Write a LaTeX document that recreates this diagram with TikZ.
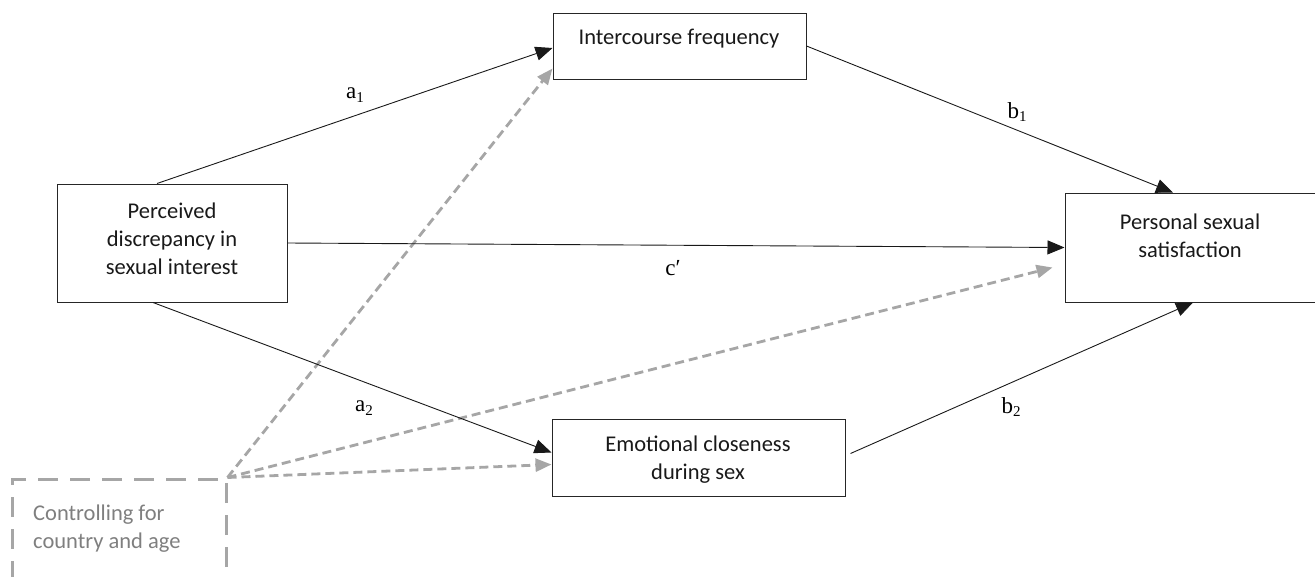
\documentclass[tikz,border=0pt]{standalone}
\usepackage{fontspec}
\newfontfamily\bodyfont{Carlito}
\newfontfamily\labfont{Liberation Serif}
\usetikzlibrary{arrows.meta,calc}
\definecolor{ctlgray}{HTML}{A6A6A6}
\definecolor{ctltext}{HTML}{7F7F7F}
\newcommand{\lbl}[2]{#1{\raisebox{-0.35ex}{\fontsize{15}{15}\selectfont #2}}}
\begin{document}
\begin{tikzpicture}[x=1pt,y=-1pt,
  box/.style={draw=black!85, line width=1pt, rectangle, inner sep=0pt},
  txt/.style={font=\bodyfont\fontsize{22.5}{28}\selectfont, align=center, inner sep=0pt, text=black!90},
  lab/.style={font=\labfont\fontsize{23}{23}\selectfont, inner sep=0pt},
  link/.style={draw=black!90, line width=0.9pt, -{Triangle[length=17pt,width=14pt]}},
  ctl/.style={draw=ctlgray, line width=2.8pt, dash pattern=on 9pt off 5pt, -{Triangle[length=16pt,width=13pt]}},
  ctlbox/.style={draw=ctlgray, line width=3pt, dash pattern=on 20pt off 12pt, rectangle, inner sep=0pt}
]
\useasboundingbox (0,0) rectangle (1315,576);

% boxes
\node[box, minimum width=230pt, minimum height=118pt] (perc) at (172,243) {};
\node[box, minimum width=253pt, minimum height=66pt] (inter) at (679.5,46) {};
\node[box, minimum width=293pt, minimum height=77pt] (emo) at (698.5,457.5) {};
\node[box, minimum width=252pt, minimum height=109pt] (pers) at (1191,247.5) {};
\node[ctlbox, minimum width=214pt, minimum height=130pt] (ctrl) at (119,544) {};

% texts
\node[txt] (perct) at (172,239) {Perceived\\discrepancy in\\sexual interest};
\node[txt] (intert) at (679,39) {Intercourse frequency};
\node[txt] (emot) at (698,460) {Emotional closeness\\during sex};
\node[txt] (perst) at (1190,236) {Personal sexual\\satisfaction};
\node[txt, text=ctltext, anchor=west, align=left] (ctrlt) at (33,529) {Controlling for\\country and age};

% control arrows
\coordinate (cc) at (ctrl.north east);
\draw[ctl] (cc) -- ($(inter.south west)+(0,-11)$);
\draw[ctl] (cc) -- ($(pers.west)+(-12,20)$);
\draw[ctl] (cc) -- ($(emo.west)+(0,7)$);

% paths
\draw[link] ($(perc.north)+(-15,0)$) -- ($(inter.west)+(0,2)$);
\draw[link] (inter.east) -- ($(pers.north)+(-18,0)$);
\draw[link] (perc.east) -- (pers.west);
\draw[link] ($(perc.south)+(-19,0)$) -- ($(emo.west)+(0,-5)$);
\draw[link] ($(emo.east)+(5,-4)$) -- ($(pers.south)+(2,0)$);

% labels
\node[lab] (la1) at (355,95) {\lbl{a}{1}};
\node[lab] (lb1) at (1017,112) {\lbl{b}{1}};
\node[lab] (lc) at (673,268) {c′};
\node[lab] (la2) at (364,408) {\lbl{a}{2}};
\node[lab] (lb2) at (1011,407) {\lbl{b}{2}};
\end{tikzpicture}
\end{document}
